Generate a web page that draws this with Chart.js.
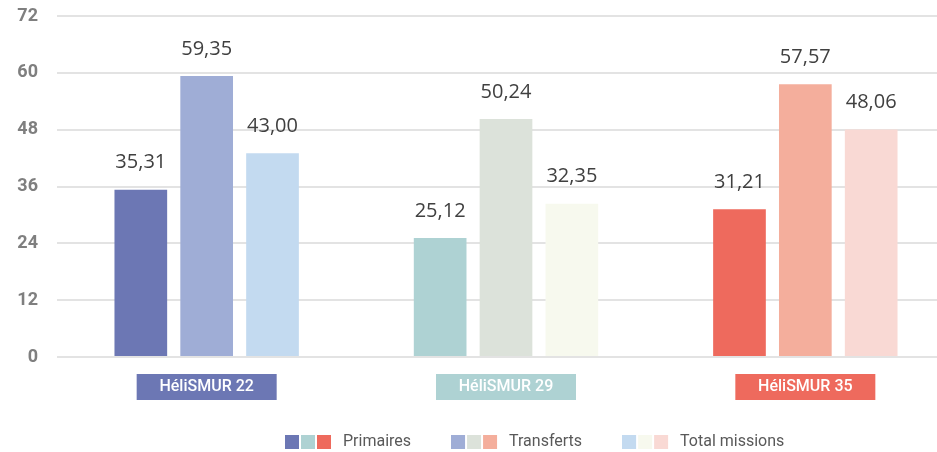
<!DOCTYPE html>
<html>
<head>
<meta charset="utf-8">
<script src="https://cdn.jsdelivr.net/npm/chart.js@4/dist/chart.umd.min.js"></script>
<style>
  html, body { margin: 0; padding: 0; background: #ffffff; overflow: hidden; }
  #wrap { width: 955px; height: 452px; position: relative; }
</style>
</head>
<body>
<div id="wrap"><canvas id="c"></canvas></div>
<script>
// ---- Data ----
const categories = ['HéliSMUR 22', 'HéliSMUR 29', 'HéliSMUR 35'];
const seriesNames = ['Primaires', 'Transferts', 'Total missions'];
const primaires = [35.31, 25.12, 31.21];
const transferts = [59.35, 50.24, 57.57];
const totalMissions = [43.00, 32.35, 48.06];
const yTicks = [0, 12, 24, 36, 48, 60, 72];

// ---- Colours (per series, per category) ----
const primairesColors = ['#6C77B4', '#AED2D3', '#EE6A5D'];
const transfertsColors = ['#9FADD6', '#DCE2DA', '#F4AE9C'];
const totalColors = ['#C3DAF0', '#F7F9EE', '#F9D9D4'];

const seriesValues = [primaires, transferts, totalMissions];
const seriesColors = [primairesColors, transfertsColors, totalColors];

function legendSwatch(colors) {
  const cv = document.createElement('canvas');
  cv.width = 50; cv.height = 14;
  const g = cv.getContext('2d');
  colors.forEach((c, i) => { g.fillStyle = c; g.fillRect(i * 16, 0, 14, 14); });
  return cv;
}
const blankSwatch = document.createElement('canvas');
blankSwatch.width = 50; blankSwatch.height = 14;

const fmt = v => v.toFixed(2).replace('.', ',');

const categoryBoxes = {
  id: 'categoryBoxes',
  beforeDraw(chart) {
    const xs = chart.scales.x;
    const ctx = chart.ctx;
    ctx.save();
    categories.forEach((c, i) => {
      const cx = xs.getPixelForValue(i);
      ctx.fillStyle = primairesColors[i];
      ctx.fillRect(cx - 70, xs.top + 17, 140, 26);
    });
    ctx.restore();
  }
};

const valueLabels = {
  id: 'valueLabels',
  afterDatasetsDraw(chart) {
    const ctx = chart.ctx;
    ctx.save();
    ctx.font = '20px "Open Sans"';
    ctx.fillStyle = '#404040';
    ctx.textAlign = 'center';
    ctx.textBaseline = 'middle';
    chart.data.datasets.forEach((ds, i) => {
      const meta = chart.getDatasetMeta(i);
      meta.data.forEach((bar, j) => {
        ctx.fillText(fmt(ds.data[j]), bar.x, bar.y - 27);
      });
    });
    ctx.restore();
  }
};

new Chart(document.getElementById('c'), {
  type: 'bar',
  data: {
    labels: categories,
    datasets: seriesNames.map((n, i) => ({
      label: n,
      data: seriesValues[i],
      backgroundColor: seriesColors[i],
      borderWidth: 0,
      categoryPercentage: 0.66,
      barPercentage: 0.8
    }))
  },
  options: {
    responsive: true,
    maintainAspectRatio: false,
    animation: false,
    layout: { padding: { top: 16, right: 0, bottom: -8, left: 0 } },
    scales: {
      x: {
        grid: { display: false, drawTicks: false },
        border: { display: false },
        ticks: {
          color: '#ffffff',
          font: { family: 'Roboto', size: 16, weight: '500' },
          padding: 20,
          autoSkip: false,
          maxRotation: 0
        },
        afterFit(s) { s.height = 37; }
      },
      y: {
        min: 0,
        max: 72,
        afterBuildTicks(s) { s.ticks = yTicks.map(v => ({ value: v })); },
        grid: { color: '#e3e3e3', lineWidth: 2, drawTicks: false },
        border: { display: false },
        ticks: {
          color: '#7f7f7f',
          font: { family: 'Roboto', size: 18, weight: 'bold' },
          padding: 19
        },
        afterFit(s) { s.width = 57; s.paddingTop = 0; s.paddingBottom = 0; }
      }
    },
    plugins: {
      tooltip: { enabled: false },
      legend: {
        position: 'bottom',
        onClick: () => {},
        labels: {
          usePointStyle: true,
          pointStyleWidth: 50,
          padding: 40,
          color: '#595959',
          font: { family: 'Roboto', size: 16 },
          generateLabels(chart) {
            const items = [{
              text: '\u2003', fillStyle: 'transparent', strokeStyle: 'transparent',
              lineWidth: 0, pointStyle: blankSwatch, hidden: false, datasetIndex: -1,
              fontColor: '#595959'
            }];
            seriesNames.forEach((n, i) => items.push({
              text: n, fillStyle: seriesColors[i][0], strokeStyle: 'transparent',
              lineWidth: 0, pointStyle: legendSwatch(seriesColors[i]), hidden: false,
              datasetIndex: i, fontColor: '#595959'
            }));
            return items;
          }
        }
      }
    }
  },
  plugins: [categoryBoxes, valueLabels]
});
</script>
</body>
</html>
